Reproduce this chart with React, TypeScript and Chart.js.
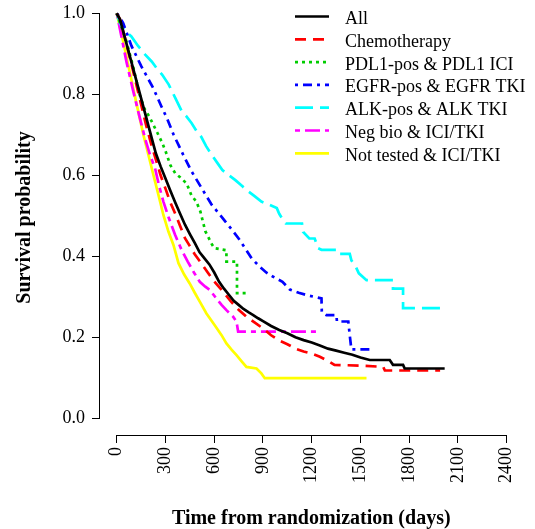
import React, { useEffect, useRef } from "react";
import { Chart, registerables } from "chart.js";

Chart.register(...registerables);

// ---------- data ----------
const seriesNames = [
  "All",
  "Chemotherapy",
  "PDL1-pos & PDL1 ICI",
  "EGFR-pos & EGFR TKI",
  "ALK-pos & ALK TKI",
  "Neg bio & ICI/TKI",
  "Not tested & ICI/TKI",
];
const seriesColors = ["#000000", "#FF0000", "#00CD00", "#0000FF", "#00FFFF", "#FF00FF", "#FFFF00"];
const seriesDashes: number[][] = [[], [11, 7], [3, 4], [3, 5, 9, 5], [18, 7], [5, 5, 15, 5], []];

const allTime = [0, 20, 50, 90, 120, 150, 180, 210, 240, 270, 300, 330, 360, 390, 420, 450, 480, 510, 540, 570, 600, 630, 660, 690, 720, 750, 780, 810, 840, 870, 900, 950, 1000, 1050, 1100, 1150, 1200, 1250, 1300, 1350, 1400, 1450, 1500, 1557, 1680, 1700, 1762, 1772, 2018];
const allSurv = [1.0, 0.985, 0.94, 0.88, 0.835, 0.79, 0.745, 0.7, 0.655, 0.622, 0.592, 0.562, 0.533, 0.505, 0.478, 0.455, 0.433, 0.41, 0.395, 0.38, 0.36, 0.337, 0.32, 0.305, 0.29, 0.28, 0.27, 0.262, 0.255, 0.247, 0.24, 0.228, 0.218, 0.21, 0.2, 0.193, 0.187, 0.18, 0.172, 0.167, 0.162, 0.157, 0.15, 0.144, 0.144, 0.132, 0.132, 0.123, 0.123];

const chemoTime = [0, 20, 50, 90, 120, 150, 180, 210, 240, 270, 300, 330, 360, 390, 420, 450, 480, 520, 560, 600, 650, 700, 750, 800, 850, 900, 950, 1000, 1050, 1100, 1150, 1200, 1250, 1300, 1340, 1500, 1640, 1650, 1990];
const chemoSurv = [1.0, 0.985, 0.94, 0.875, 0.825, 0.775, 0.725, 0.68, 0.64, 0.6, 0.567, 0.533, 0.505, 0.475, 0.445, 0.425, 0.405, 0.383, 0.36, 0.338, 0.315, 0.29, 0.268, 0.25, 0.236, 0.222, 0.205, 0.192, 0.183, 0.172, 0.165, 0.16, 0.152, 0.142, 0.132, 0.13, 0.127, 0.118, 0.118];

const pdl1Time = [0, 30, 60, 100, 140, 170, 200, 250, 280, 300, 330, 360, 390, 430, 460, 490, 515, 545, 585, 600, 675, 675, 740, 740, 810];
const pdl1Surv = [1.0, 0.965, 0.93, 0.87, 0.8, 0.765, 0.745, 0.705, 0.68, 0.66, 0.625, 0.605, 0.595, 0.58, 0.55, 0.535, 0.51, 0.462, 0.43, 0.42, 0.415, 0.387, 0.387, 0.309, 0.309];

const egfrTime = [0, 20, 40, 90, 150, 225, 275, 310, 350, 410, 460, 520, 585, 630, 670, 710, 750, 790, 830, 880, 920, 960, 1020, 1065, 1120, 1170, 1260, 1262, 1290, 1352, 1355, 1425, 1434, 1444, 1557];
const egfrSurv = [1.0, 0.99, 0.975, 0.92, 0.87, 0.815, 0.77, 0.74, 0.7, 0.65, 0.61, 0.57, 0.527, 0.505, 0.485, 0.465, 0.444, 0.42, 0.395, 0.374, 0.36, 0.35, 0.337, 0.318, 0.31, 0.304, 0.296, 0.262, 0.255, 0.255, 0.239, 0.239, 0.205, 0.17, 0.17];

const alkTime = [0, 20, 50, 90, 130, 175, 215, 250, 280, 320, 360, 400, 430, 460, 490, 520, 550, 585, 620, 650, 690, 730, 770, 810, 850, 890, 940, 985, 1000, 1023, 1040, 1140, 1147, 1185, 1218, 1239, 1260, 1362, 1372, 1434, 1444, 1470, 1490, 1537, 1700, 1700, 1762, 1762, 1998];
const alkSurv = [1.0, 0.975, 0.956, 0.943, 0.92, 0.898, 0.881, 0.862, 0.848, 0.824, 0.791, 0.758, 0.745, 0.729, 0.71, 0.695, 0.672, 0.65, 0.63, 0.613, 0.6, 0.588, 0.574, 0.56, 0.548, 0.535, 0.527, 0.519, 0.505, 0.49, 0.481, 0.481, 0.46, 0.444, 0.444, 0.42, 0.416, 0.416, 0.406, 0.406, 0.39, 0.375, 0.358, 0.341, 0.341, 0.32, 0.32, 0.272, 0.272];

const negTime = [0, 30, 60, 100, 140, 175, 205, 236, 260, 287, 320, 359, 400, 437, 475, 511, 545, 572, 613, 645, 675, 716, 737, 747, 1239];
const negSurv = [1.0, 0.94, 0.88, 0.81, 0.745, 0.69, 0.65, 0.617, 0.575, 0.535, 0.495, 0.453, 0.415, 0.387, 0.36, 0.337, 0.325, 0.317, 0.296, 0.28, 0.267, 0.251, 0.239, 0.214, 0.214];

const notTestedTime = [0, 40, 80, 120, 164, 195, 226, 257, 287, 318, 349, 380, 415, 449, 480, 511, 552, 603, 644, 675, 705, 737, 770, 798, 860, 890, 911, 1537];
const notTestedSurv = [1.0, 0.93, 0.855, 0.78, 0.7, 0.65, 0.6, 0.551, 0.502, 0.461, 0.428, 0.383, 0.355, 0.333, 0.31, 0.288, 0.259, 0.23, 0.206, 0.185, 0.17, 0.156, 0.14, 0.127, 0.123, 0.111, 0.099, 0.099];

const seriesTimes = [allTime, chemoTime, pdl1Time, egfrTime, alkTime, negTime, notTestedTime];
const seriesSurvs = [allSurv, chemoSurv, pdl1Surv, egfrSurv, alkSurv, negSurv, notTestedSurv];

const xTickValues = [0, 300, 600, 900, 1200, 1500, 1800, 2100, 2400];
const yTickValues = [0, 0.2, 0.4, 0.6, 0.8, 1.0];
const xTitle = "Time from randomization (days)";
const yTitle = "Survival probability";

const FONT = "'Liberation Serif', 'Times New Roman', serif";

const axisLinesPlugin = {
  id: "axisLines",
  afterDraw(chart: any) {
    const { ctx } = chart;
    const xs = chart.scales.x;
    const ys = chart.scales.y;
    ctx.save();
    ctx.strokeStyle = "#000";
    ctx.lineWidth = 1;
    const bx = Math.round(chart.chartArea.bottom) + 0.5;
    ctx.beginPath();
    ctx.moveTo(xs.getPixelForValue(xTickValues[0]), bx);
    ctx.lineTo(xs.getPixelForValue(xTickValues[xTickValues.length - 1]), bx);
    ctx.stroke();
    const lx = Math.round(chart.chartArea.left) - 0.5;
    ctx.beginPath();
    ctx.moveTo(lx, ys.getPixelForValue(yTickValues[0]));
    ctx.lineTo(lx, ys.getPixelForValue(yTickValues[yTickValues.length - 1]));
    ctx.stroke();
    ctx.restore();
  },
};

const legendPlugin = {
  id: "customLegend",
  afterDatasetsDraw(chart: any) {
    const { ctx } = chart;
    ctx.save();
    chart.data.datasets.forEach((ds: any, i: number) => {
      const y = 16.5 + i * 22.8;
      ctx.strokeStyle = ds.borderColor;
      ctx.lineWidth = ds.borderWidth;
      ctx.setLineDash(ds.borderDash || []);
      ctx.beginPath();
      ctx.moveTo(295, y);
      ctx.lineTo(329, y);
      ctx.stroke();
      ctx.setLineDash([]);
      ctx.fillStyle = "#000";
      ctx.font = `18px ${FONT}`;
      ctx.textBaseline = "alphabetic";
      ctx.textAlign = "left";
      ctx.fillText(ds.label, 345, y + 7.5);
    });
    ctx.restore();
  },
};

export default function App() {
  const ref = useRef<HTMLCanvasElement | null>(null);
  useEffect(() => {
    if (!ref.current) return;
    const datasets = seriesNames.map((name, i) => ({
      label: name,
      data: seriesTimes[i].map((t, k) => ({ x: t, y: seriesSurvs[i][k] })),
      borderColor: seriesColors[i],
      backgroundColor: seriesColors[i],
      borderWidth: 2.7,
      borderDash: seriesDashes[i],
      pointRadius: 0,
      tension: 0,
      fill: false,
    }));
    const chart = new Chart(ref.current, {
      type: "line",
      data: { datasets },
      plugins: [axisLinesPlugin, legendPlugin],
      options: {
        animation: false,
        responsive: false,
        devicePixelRatio: 1,
        layout: { padding: { left: 0, top: 0, right: 12.5, bottom: 0 } },
        plugins: { legend: { display: false }, tooltip: { enabled: false } },
        scales: {
          x: {
            type: "linear",
            min: -103,
            max: 2497,
            afterBuildTicks: (s: any) => {
              s.ticks = xTickValues.map((v) => ({ value: v }));
            },
            afterFit: (s: any) => {
              s.height = 94;
              s.paddingLeft = 0;
              s.paddingRight = 0;
            },
            ticks: {
              autoSkip: false,
              maxRotation: 90,
              minRotation: 90,
              padding: 4,
              color: "#000",
              font: { family: FONT, size: 18 },
              callback: (v: any) => String(v),
            },
            grid: { drawOnChartArea: false, drawTicks: true, tickLength: 8, color: "#000", lineWidth: 1 },
            border: { display: false },
            title: {
              display: true,
              text: xTitle,
              color: "#000",
              font: { family: FONT, size: 20, weight: "bold", lineHeight: 1 },
              padding: { top: 0, bottom: 0 },
            },
          },
          y: {
            type: "linear",
            min: -0.0412,
            max: 1.0328,
            afterBuildTicks: (s: any) => {
              s.ticks = yTickValues.map((v) => ({ value: v }));
            },
            afterFit: (s: any) => {
              s.width = 100;
              s.paddingTop = 0;
              s.paddingBottom = 0;
            },
            ticks: {
              padding: 7,
              color: "#000",
              font: { family: FONT, size: 18 },
              callback: (v: any) => Number(v).toFixed(1),
            },
            grid: { drawOnChartArea: false, drawTicks: true, tickLength: 8, color: "#000", lineWidth: 1 },
            border: { display: false },
            title: {
              display: true,
              text: yTitle,
              color: "#000",
              font: { family: FONT, size: 20, weight: "bold", lineHeight: 1 },
              padding: { top: 15, bottom: 0 },
            },
          },
        },
      } as any,
    });
    return () => chart.destroy();
  }, []);
  return (
    <div style={{ position: "fixed", left: 0, top: 0, width: 535, height: 529, background: "#fff" }}>
      <canvas ref={ref} width={535} height={529} />
    </div>
  );
}
